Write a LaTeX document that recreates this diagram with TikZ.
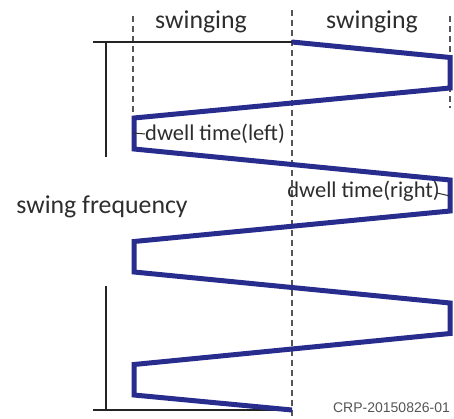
\documentclass[tikz,border=0pt]{standalone}
\usepackage{fontspec}
\setmainfont{Carlito}
\newfontfamily\crpfont{Liberation Sans}
\definecolor{zig}{RGB}{40,44,140}
\definecolor{txt}{RGB}{45,45,45}
\definecolor{dsh}{RGB}{85,85,85}
\begin{document}
\begin{tikzpicture}[x=1pt,y=-1pt,
  zigline/.style={draw=zig,line width=5pt,line join=miter},
  guide/.style={draw=dsh,line width=1.2pt,dash pattern=on 6pt off 4pt},
  frame/.style={draw=txt!80!black,line width=1.3pt},
  lbl/.style={text=txt,inner sep=0pt,font=\fontsize{25.8}{30}\selectfont},
  dlbl/.style={text=txt,inner sep=0pt,font=\fontsize{22.5}{26}\selectfont},
  tick/.style={draw=txt,line width=1pt}]
\useasboundingbox (0,0) rectangle (454,419);
% guides
\coordinate (gl1) at (133,16); \coordinate (gl2) at (133,112);
\coordinate (gm1) at (292,10); \coordinate (gm2) at (292,416);
\coordinate (gr1) at (450,16); \coordinate (gr2) at (450,108);
\draw[guide] (gl1) -- (gl2);
\draw[guide] (gm1) -- (gm2);
\draw[guide] (gr1) -- (gr2);
% frame
\coordinate (ft0) at (93,42); \coordinate (ft1) at (292,42);
\coordinate (fb0) at (93,410); \coordinate (fb1) at (292,410);
\coordinate (fv1) at (106,42); \coordinate (fv2) at (106,157);
\coordinate (fv3) at (106,286); \coordinate (fv4) at (106,410);
\draw[frame] (ft0) -- (ft1);
\draw[frame] (fb0) -- (fb1);
\draw[frame] (fv1) -- (fv2);
\draw[frame] (fv3) -- (fv4);
% zigzag
\coordinate (z0) at (292,42);
\coordinate (r1a) at (450,57.5); \coordinate (r1b) at (450,88);
\coordinate (l1a) at (134,118); \coordinate (l1b) at (134,149);
\coordinate (r2a) at (450,180); \coordinate (r2b) at (450,211);
\coordinate (l2a) at (134,241.5); \coordinate (l2b) at (134,272);
\coordinate (r3a) at (450,303); \coordinate (r3b) at (450,333.5);
\coordinate (l3a) at (134,364.5); \coordinate (l3b) at (134,395);
\coordinate (z1) at (292,410);
\draw[zigline] (z0) -- (r1a) -- (r1b) -- (l1a) -- (l1b) -- (r2a) -- (r2b) -- (l2a) -- (l2b) -- (r3a) -- (r3b) -- (l3a) -- (l3b) -- (z1);
% labels
\node[lbl] (sw1) at (201,22) {swinging};
\node[lbl] (sw2) at (372,22) {swinging};
\node[lbl] (freq) at (102,207) {swing frequency};
\node[dlbl,anchor=west] (dl) at (145,134) {dwell time(left)};
\node[dlbl,anchor=east] (dr) at (440,191) {dwell time(right)};
\coordinate (tl) at (134,133);
\coordinate (tr) at (450,196);
\draw[tick] (tl) -- (dl.west);
\draw[tick] ([xshift=-3pt,yshift=-2pt]dr.east) -- (tr);
\node[text=dsh,inner sep=0pt,font=\crpfont\fontsize{14}{16}\selectfont] (crp) at (391.5,408) {CRP-20150826-01};
\end{tikzpicture}
\end{document}
